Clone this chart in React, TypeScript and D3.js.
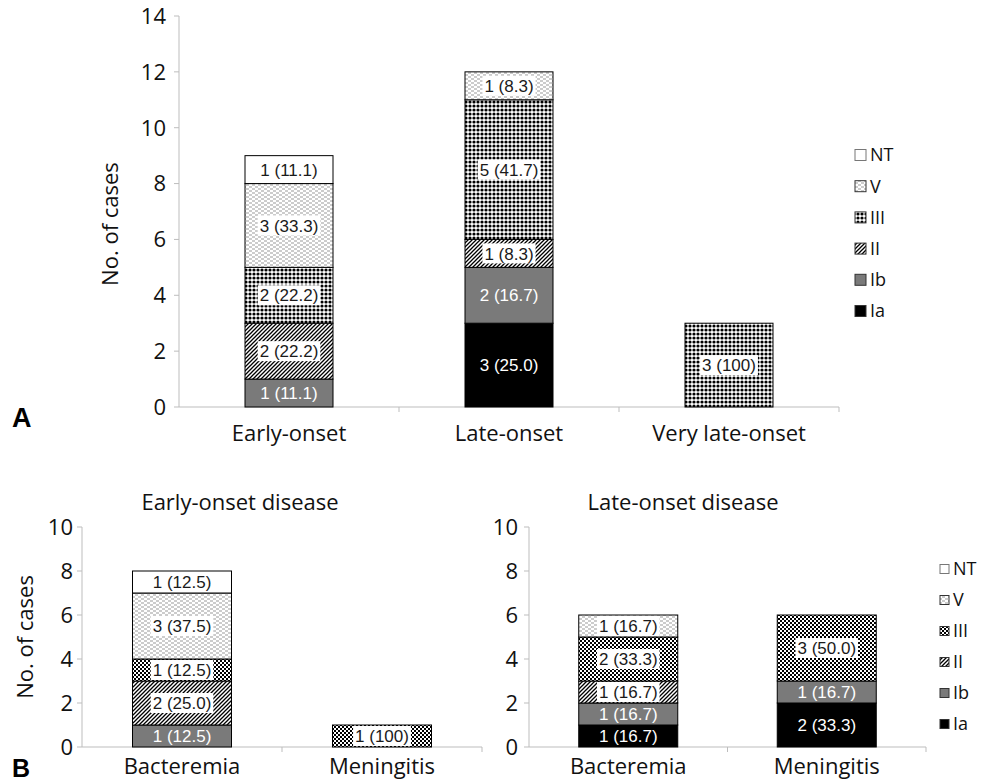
import React from "react";
import * as d3 from "d3";

const SERIES = ["Ia", "Ib", "II", "III", "V", "NT"];
const LEGEND_ORDER = ["NT", "V", "III", "II", "Ib", "Ia"];

// Panel A
const catsA = ["Early-onset", "Late-onset", "Very late-onset"];
const A_Ia = [0, 3, 0];
const A_Ib = [1, 2, 0];
const A_II = [2, 1, 0];
const A_III = [2, 5, 3];
const A_V = [3, 1, 0];
const A_NT = [1, 0, 0];
const ticksA = [0, 2, 4, 6, 8, 10, 12, 14];

// Panel B (left: early-onset disease)
const catsB = ["Bacteremia", "Meningitis"];
const BE_Ia = [0, 0];
const BE_Ib = [1, 0];
const BE_II = [2, 0];
const BE_III = [1, 1];
const BE_V = [3, 0];
const BE_NT = [1, 0];

// Panel B (right: late-onset disease)
const BL_Ia = [1, 2];
const BL_Ib = [1, 1];
const BL_II = [1, 0];
const BL_III = [2, 3];
const BL_V = [1, 0];
const BL_NT = [0, 0];
const ticksB = [0, 2, 4, 6, 8, 10];

const titleBE = "Early-onset disease";
const titleBL = "Late-onset disease";
const yTitle = "No. of cases";

const AXIS = "#bdbdbd";
const TICK_FONT = "'Open Sans', 'Noto Sans', sans-serif";
const LABEL_FONT = "'Liberation Sans', Arial, sans-serif";

function buildRows(cats: string[], s: Record<string, number[]>) {
  return cats.map((c, i) => {
    const r: any = { cat: c };
    SERIES.forEach((k) => (r[k] = s[k][i]));
    return r;
  });
}

function textW(str: string, fs: number) {
  let w = 0;
  for (const ch of str) {
    if (/[0-9]/.test(ch)) w += 0.556;
    else if (ch === " " || ch === ".") w += 0.278;
    else if (ch === "(" || ch === ")") w += 0.333;
    else w += 0.5;
  }
  return w * fs;
}

function fillFor(key: string, iii: string) {
  switch (key) {
    case "Ia": return "#000";
    case "Ib": return "#7a7a7a";
    case "II": return "url(#pII)";
    case "III": return `url(#${iii})`;
    case "V": return "url(#pV)";
    default: return "#fff";
  }
}

function Panel(props: {
  cats: string[]; series: Record<string, number[]>; left: number; right: number; top: number; bottom: number;
  yMax: number; ticks: number[]; barW: number; iii: string; xLabelY: number; tickLabelRight: number;
}) {
  const { cats, series, left, right, top, bottom, yMax, ticks, barW, iii, xLabelY, tickLabelRight } = props;
  const x = d3.scaleBand<string>().domain(cats).range([left, right]);
  const y = d3.scaleLinear().domain([0, yMax]).range([bottom, top]);
  const rows = buildRows(cats, series);
  const stacked = d3.stack<any>().keys(SERIES)(rows);
  const totals = rows.map((r) => d3.sum(SERIES, (k) => r[k]));
  const bw = x.bandwidth();
  const fs = 17;
  return (
    <g>
      <line x1={left} x2={left} y1={top} y2={bottom} stroke={AXIS} strokeWidth={1} />
      {ticks.map((t) => (
        <g key={t}>
          <line x1={left - 5} x2={left} y1={y(t)} y2={y(t)} stroke={AXIS} />
          <text x={tickLabelRight} y={y(t)} dy="0.36em" textAnchor="end" fontFamily={TICK_FONT} fontSize={22} fill="#111">{t}</text>
        </g>
      ))}
      <line x1={left} x2={right} y1={bottom} y2={bottom} stroke={AXIS} />
      {cats.map((c, i) => (
        <line key={"xt" + i} x1={(x(c) as number) + bw} x2={(x(c) as number) + bw} y1={bottom} y2={bottom + 5} stroke={AXIS} />
      ))}
      {cats.map((c) => (
        <text key={"xl" + c} x={(x(c) as number) + bw / 2} y={xLabelY} textAnchor="middle" fontFamily={TICK_FONT} fontSize={22} fill="#111">{c}</text>
      ))}
      {stacked.map((layer) =>
        layer.map((d, i) => {
          const v = d[1] - d[0];
          if (v <= 0) return null;
          const cx = (x(cats[i]) as number) + bw / 2;
          return (
            <rect key={layer.key + i} x={cx - barW / 2} y={y(d[1])} width={barW} height={y(d[0]) - y(d[1])}
              fill={fillFor(layer.key, iii)} stroke="#000" strokeWidth={1} />
          );
        })
      )}
      {stacked.map((layer) =>
        layer.map((d, i) => {
          const v = d[1] - d[0];
          if (v <= 0) return null;
          const pct = (v / totals[i]) * 100;
          const lab = `${v} (${pct === 100 ? "100" : pct.toFixed(1)})`;
          const cx = (x(cats[i]) as number) + bw / 2;
          const cy = y((d[0] + d[1]) / 2);
          const w = textW(lab, fs);
          const boxed = layer.key === "II" || layer.key === "III" || layer.key === "V";
          const white = layer.key === "Ia" || layer.key === "Ib";
          return (
            <g key={"lb" + layer.key + i}>
              {boxed && <rect x={cx - w / 2 - 2} y={cy - 10} width={w + 4} height={20} fill="#fff" />}
              <text x={cx} y={cy} dy="0.36em" textAnchor="middle" fontFamily={LABEL_FONT} fontSize={fs} fill={white ? "#fff" : "#1a1a1a"}>{lab}</text>
            </g>
          );
        })
      )}
    </g>
  );
}

function Legend(props: { x: number; y0: number; step: number; size: number; iii: string }) {
  const { x, y0, step, size, iii } = props;
  return (
    <g>
      {LEGEND_ORDER.map((k, i) => (
        <g key={k}>
          <rect x={x} y={y0 + i * step - size / 2} width={size} height={size} fill={fillFor(k, iii)}
            stroke={k === "NT" ? "#777" : "#333"} strokeWidth={1} />
          <text x={x + size + 4} y={y0 + i * step} dy="0.36em" fontFamily={TICK_FONT} fontSize={18} fill="#111">{k}</text>
        </g>
      ))}
    </g>
  );
}

export default function App() {
  const sA = { Ia: A_Ia, Ib: A_Ib, II: A_II, III: A_III, V: A_V, NT: A_NT };
  const sBE = { Ia: BE_Ia, Ib: BE_Ib, II: BE_II, III: BE_III, V: BE_V, NT: BE_NT };
  const sBL = { Ia: BL_Ia, Ib: BL_Ib, II: BL_II, III: BL_III, V: BL_V, NT: BL_NT };
  return (
    <svg width={985} height={784} style={{ position: "absolute", left: 0, top: 0, background: "#fff" }}>
      <defs>
        <pattern id="pII" width={4} height={4} patternUnits="userSpaceOnUse">
          <rect width={4} height={4} fill="#fff" />
          <path d="M-1,1 l2,-2 M0,4 l4,-4 M3,5 l2,-2" stroke="#000" strokeWidth={1.3} />
        </pattern>
        <pattern id="pIIIa" width={4} height={4} patternUnits="userSpaceOnUse">
          <rect width={4} height={4} fill="#fff" />
          <circle cx={2} cy={2} r={1.6} fill="#000" />
        </pattern>
        <pattern id="pIIIb" width={4} height={4} patternUnits="userSpaceOnUse">
          <rect width={4} height={4} fill="#fff" />
          <rect x={0} y={0} width={2} height={2} fill="#000" />
          <rect x={2} y={2} width={2} height={2} fill="#000" />
        </pattern>
        <pattern id="pV" width={6} height={4} patternUnits="userSpaceOnUse">
          <rect width={6} height={4} fill="#fff" />
          <line x1={0} x2={3} y1={1} y2={1} stroke="#9a9a9a" strokeWidth={1} />
          <line x1={3} x2={6} y1={3} y2={3} stroke="#9a9a9a" strokeWidth={1} />
        </pattern>
      </defs>

      <text x={110} y={224} transform="rotate(-90 110 224)" textAnchor="middle" dy="0.36em" fontFamily={TICK_FONT} fontSize={22} fill="#111">{yTitle}</text>
      <Panel cats={catsA} series={sA} left={179} right={839} top={16} bottom={407} yMax={14} ticks={ticksA}
        barW={88} iii="pIIIa" xLabelY={441} tickLabelRight={166} />
      <Legend x={855} y0={155} step={31.2} size={11} iii="pIIIa" />
      <text x={12} y={427} fontFamily={LABEL_FONT} fontWeight="bold" fontSize={27} fill="#000">A</text>

      <text x={25} y={637} transform="rotate(-90 25 637)" textAnchor="middle" dy="0.36em" fontFamily={TICK_FONT} fontSize={22} fill="#111">{yTitle}</text>
      <text x={240} y={510} textAnchor="middle" fontFamily={TICK_FONT} fontSize={22} fill="#111">{titleBE}</text>
      <Panel cats={catsB} series={sBE} left={82} right={482} top={527} bottom={747} yMax={10} ticks={ticksB}
        barW={99} iii="pIIIb" xLabelY={774} tickLabelRight={73} />
      <text x={683} y={510} textAnchor="middle" fontFamily={TICK_FONT} fontSize={22} fill="#111">{titleBL}</text>
      <Panel cats={catsB} series={sBL} left={529} right={926} top={527} bottom={747} yMax={10} ticks={ticksB}
        barW={99} iii="pIIIb" xLabelY={774} tickLabelRight={518} />
      <Legend x={940} y0={569} step={31} size={9} iii="pIIIb" />
      <text x={12} y={777} fontFamily={LABEL_FONT} fontWeight="bold" fontSize={25} fill="#000">B</text>
    </svg>
  );
}
